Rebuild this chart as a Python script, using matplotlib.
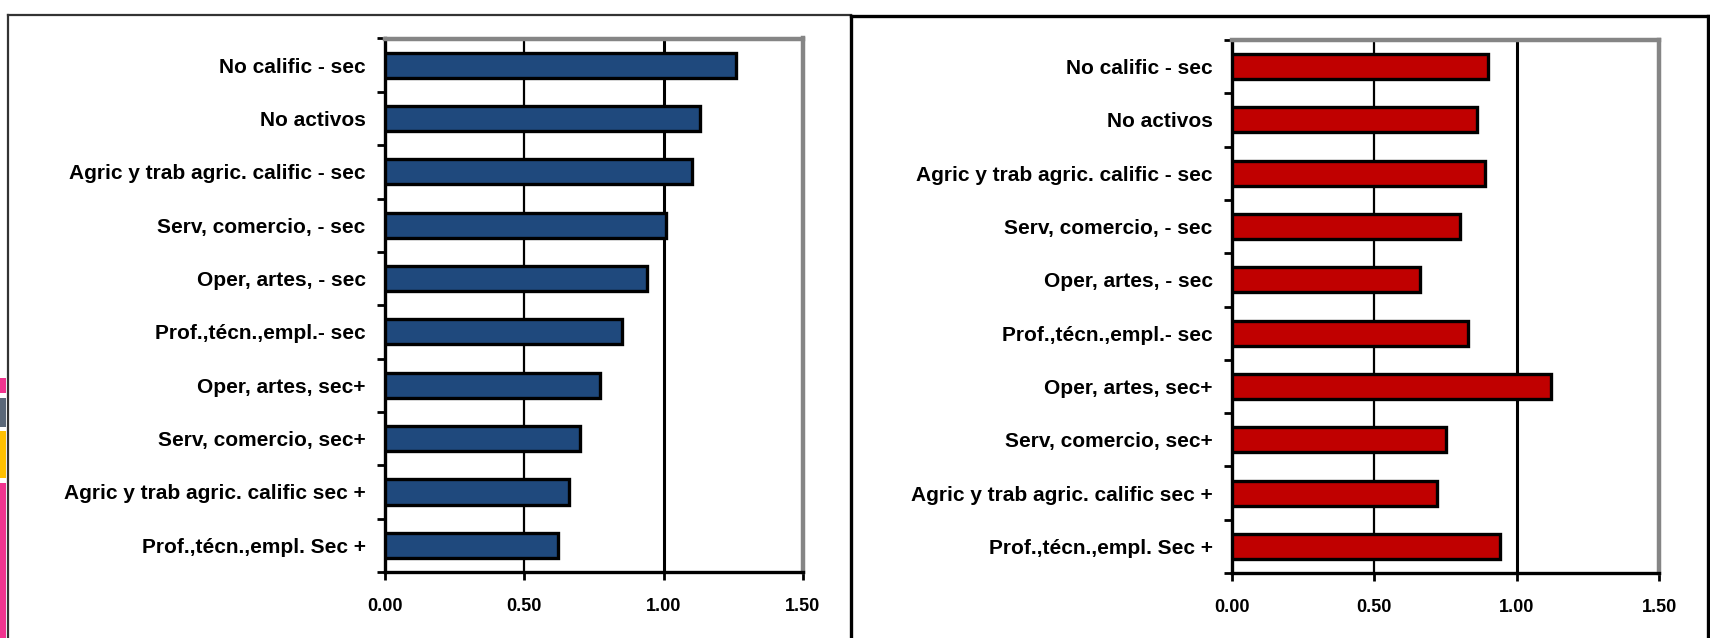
import matplotlib
matplotlib.use("Agg")
import matplotlib.pyplot as plt
from matplotlib.lines import Line2D
from matplotlib.patches import Rectangle

plt.rcParams['font.family'] = ['Liberation Sans', 'DejaVu Sans']

categories = [
    "No calific - sec",
    "No activos",
    "Agric y trab agric. calific - sec",
    "Serv, comercio, - sec",
    "Oper, artes, - sec",
    "Prof.,técn.,empl.- sec",
    "Oper, artes, sec+",
    "Serv, comercio, sec+",
    "Agric y trab agric. calific sec +",
    "Prof.,técn.,empl. Sec +",
]
left_values = [1.26, 1.13, 1.10, 1.01, 0.94, 0.85, 0.77, 0.70, 0.66, 0.62]
right_values = [0.90, 0.86, 0.89, 0.80, 0.66, 0.83, 1.12, 0.75, 0.72, 0.94]
x_ticks = [0.0, 0.5, 1.0, 1.5]
x_tick_labels = ["0.00", "0.50", "1.00", "1.50"]

W, H = 1710, 638
fig = plt.figure(figsize=(W / 100, H / 100), dpi=100)


def fx(px):
    return px / W


def fy(py):
    return 1 - py / H


def draw_panel(rect, values, color):
    ax = fig.add_axes(rect)
    n = len(categories)
    pos = list(range(n))
    ax.barh(pos, values, height=0.47, color=color, edgecolor="black",
            linewidth=2.4, zorder=3)
    ax.set_xlim(0, 1.5)
    ax.set_ylim(n - 0.5, -0.5)
    for xv, lw in [(0.5, 1.6), (1.0, 2.2)]:
        ax.axvline(xv, color="black", linewidth=lw, zorder=1)
    ax.set_xticks(x_ticks)
    ax.set_xticklabels(x_tick_labels, fontsize=13, fontweight="bold")
    ax.set_yticks([p - 0.5 for p in pos] + [n - 0.5], minor=True)
    ax.set_yticks(pos)
    ax.set_yticklabels(categories, fontsize=15, fontweight="bold")
    ax.tick_params(axis="y", which="major", length=0, pad=14)
    ax.tick_params(axis="y", which="minor", length=6, width=2, color="black")
    ax.tick_params(axis="x", length=6, width=2, pad=13)
    for side in ("left", "bottom"):
        ax.spines[side].set_color("black")
        ax.spines[side].set_linewidth(2.4)
    for side in ("top", "right"):
        ax.spines[side].set_color("#858585")
        ax.spines[side].set_linewidth(3.2)
    ax.set_facecolor("white")
    return ax


draw_panel([fx(385), fy(572), fx(803) - fx(385), fy(38.5) - fy(572)],
           left_values, "#1F497D")
draw_panel([fx(1232), fy(573), fx(1659) - fx(1232), fy(40) - fy(573)],
           right_values, "#C00000")

# slide frames around each chart
frame_lines = [
    ([8, 851], [15, 15], "#333333", 1.6),
    ([8, 8], [15, 640], "#333333", 1.6),
    ([851, 1708], [16, 16], "black", 2.4),
    ([851, 851], [16, 640], "black", 2.4),
    ([1708, 1708], [16, 640], "black", 2.4),
]
for xs, ys, c, lw in frame_lines:
    fig.add_artist(Line2D([fx(x) for x in xs], [fy(y) for y in ys],
                          color=c, linewidth=lw, transform=fig.transFigure))

# coloured tabs along the left edge
tabs = [
    (378, 393, "#F0348F"),
    (398, 427, "#5A6778"),
    (431, 478, "#FFC000"),
    (483, 640, "#F0348F"),
]
for y0, y1, c in tabs:
    fig.add_artist(Rectangle((0, fy(y1)), fx(6), fy(y0) - fy(y1),
                             facecolor=c, edgecolor="none",
                             transform=fig.transFigure))

fig.savefig("out.png", dpi=100)
